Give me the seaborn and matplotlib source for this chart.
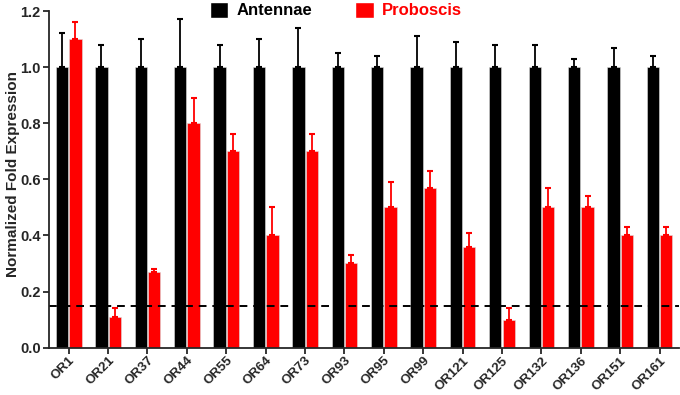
import numpy as np
import pandas as pd
import seaborn as sns
import matplotlib.pyplot as plt
from matplotlib.patches import Patch

# datos
receptores = ["OR1", "OR21", "OR37", "OR44", "OR55", "OR64", "OR73", "OR93",
              "OR95", "OR99", "OR121", "OR125", "OR132", "OR136", "OR151", "OR161"]
antenas = [1.0] * 16
antenas_err = [0.12, 0.08, 0.10, 0.17, 0.08, 0.10, 0.14, 0.05,
               0.04, 0.11, 0.09, 0.08, 0.08, 0.03, 0.07, 0.04]
proboscis = [1.10, 0.11, 0.27, 0.80, 0.70, 0.40, 0.70, 0.30,
             0.50, 0.57, 0.36, 0.10, 0.50, 0.50, 0.40, 0.40]
proboscis_err = [0.06, 0.03, 0.01, 0.09, 0.06, 0.10, 0.06, 0.03,
                 0.09, 0.06, 0.05, 0.04, 0.07, 0.04, 0.03, 0.03]
umbral = 0.15
tejidos = ["Antennae", "Proboscis"]
colores = ["#000000", "#ff0000"]

df = pd.DataFrame({
    "OR": receptores * 2,
    "Tejido": [tejidos[0]] * 16 + [tejidos[1]] * 16,
    "Valor": antenas + proboscis,
    "Err": antenas_err + proboscis_err,
})

sns.set_style("ticks")
plt.rcParams["font.family"] = ["Liberation Sans", "DejaVu Sans"]
plt.rcParams["font.weight"] = "bold"

fig = plt.figure(figsize=(6.8, 3.95), dpi=100)
ax = fig.add_axes([0.072, 0.12, 0.927, 0.852])

sns.barplot(data=df, x="OR", y="Valor", hue="Tejido", palette=colores,
            width=0.68, gap=0.08, errorbar=None, saturation=1,
            edgecolor="#dddddd", linewidth=0.4, legend=False, ax=ax)

# barras de error solo hacia arriba
for cont, tej, col in zip(ax.containers, tejidos, colores):
    sub = df[df["Tejido"] == tej]
    xs = [b.get_x() + b.get_width() / 2 for b in cont]
    ax.errorbar(xs, sub["Valor"], yerr=[np.zeros(len(sub)), sub["Err"]],
                fmt="none", ecolor=col, elinewidth=1.3, capsize=2,
                capthick=1.5, zorder=1)

ax.axhline(umbral, color="black", linestyle=(0, (4, 3)), linewidth=1.4)

ax.set_ylim(0, 1.2)
ax.set_xlim(-0.5, 15.5)
ax.set_yticks(np.arange(0, 1.21, 0.2))
ax.set_yticklabels([f"{v:.1f}" for v in np.arange(0, 1.21, 0.2)],
                   fontsize=10.5, fontweight="bold")
ax.set_xticks(range(len(receptores)))
ax.set_xticklabels(receptores, rotation=45, ha="right", rotation_mode="anchor",
                   fontsize=9.5, fontweight="bold")
ax.set_xlabel("")
ax.set_ylabel("Normalized Fold Expression", fontsize=11, fontweight="bold")
ax.yaxis.set_label_coords(-0.046, 0.515)
ax.tick_params(axis="both", width=1.3, length=4, pad=2)
ax.tick_params(axis="x", pad=1)
sns.despine(ax=ax)
for s in ["left", "bottom"]:
    ax.spines[s].set_linewidth(1.3)

handles = [Patch(facecolor=c) for c in colores]
leg = fig.legend(handles, tejidos, loc="center", bbox_to_anchor=(0.494, 0.975),
                 ncol=2, frameon=False, fontsize=12, handlelength=1.1,
                 handleheight=1.1, columnspacing=2.6, handletextpad=0.5)
for t, c in zip(leg.get_texts(), colores):
    t.set_color(c)
    t.set_fontweight("bold")

fig.savefig("out.png", dpi=100)
